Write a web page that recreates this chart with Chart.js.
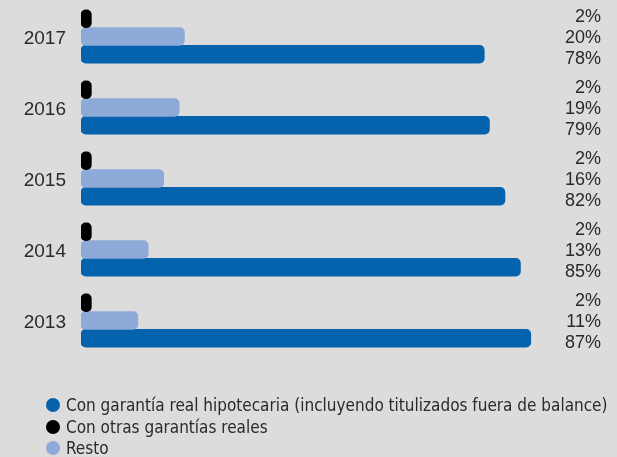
<!DOCTYPE html>
<html>
<head>
<meta charset="utf-8">
<script src="https://cdn.jsdelivr.net/npm/chart.js@4"></script>
<style>
  html, body { margin: 0; padding: 0; background: #dcdcdc; }
  #wrap { position: relative; width: 617px; height: 457px; }
  #legend {
    position: absolute; left: 46px; top: 395px;
    font-family: "Liberation Sans Narrow", "DejaVu Sans Condensed", sans-serif;
    font-size: 17px; color: #2a2a2a;
  }
  #legend .item { height: 21.5px; line-height: 21.5px; white-space: nowrap; }
  #legend .dot {
    display: inline-block; width: 14px; height: 14px; border-radius: 50%;
    vertical-align: -1px; margin-right: 6px;
  }
</style>
</head>
<body>
<div id="wrap">
  <canvas id="chart" width="617" height="457"></canvas>
  <div id="legend"></div>
</div>
<script>
// data
const years = ["2017", "2016", "2015", "2014", "2013"];
const otrasGarantias = [2, 2, 2, 2, 2];
const resto = [20, 19, 16, 13, 11];
const hipotecaria = [78, 79, 82, 85, 87];

const seriesNames = [
  "Con otras garantías reales",
  "Resto",
  "Con garantía real hipotecaria (incluyendo titulizados fuera de balance)"
];
const seriesColors = ["#000000", "#8eaad9", "#0563ad"];
// legend shows mortgage first, then other guarantees, then the rest
const legendOrder = [2, 0, 1];

const textColor = "#2a2a2a";

// percentage labels at the right edge, one per bar
const valueLabels = {
  id: "valueLabels",
  afterDatasetsDraw(chart) {
    const ctx = chart.ctx;
    ctx.save();
    ctx.font = "18px 'Liberation Sans', sans-serif";
    ctx.fillStyle = textColor;
    ctx.textAlign = "right";
    ctx.textBaseline = "middle";
    const yScale = chart.scales.y;
    chart.data.datasets.forEach((ds, i) => {
      const meta = chart.getDatasetMeta(i);
      meta.data.forEach((bar, j) => {
        const mid = yScale.getPixelForValue(j);
        const y = mid + (bar.y - mid) * 1.2;
        ctx.fillText(ds.data[j] + "%", 601, y + 1.5);
      });
    });
    ctx.restore();
  }
};

const datasets = [otrasGarantias, resto, hipotecaria].map((d, i) => ({
  label: seriesNames[i],
  data: d,
  backgroundColor: seriesColors[i],
  borderRadius: 5,
  borderSkipped: false,
  barThickness: 17.7
}));

const chart = new Chart(document.getElementById("chart"), {
  type: "bar",
  data: { labels: years, datasets: datasets },
  plugins: [valueLabels],
  options: {
    indexAxis: "y",
    responsive: false,
    animation: false,
    layout: { padding: { left: 23, right: 19, top: 1, bottom: 101 } },
    plugins: {
      legend: { display: false },
      tooltip: { enabled: false }
    },
    scales: {
      x: { display: false, min: 0, max: 100 },
      y: {
        grid: { display: false, drawTicks: false },
        border: { display: false },
        ticks: {
          color: textColor,
          padding: 15,
          labelOffset: 2,
          font: { family: "'Liberation Sans', sans-serif", size: 19 }
        },
        afterFit: (axis) => {
          axis.width = 58;
          // no extra room above/below the first and last year
          axis.paddingTop = 0;
          axis.paddingBottom = 0;
        }
      }
    }
  }
});

// build the legend from the chart datasets
const legendEl = document.getElementById("legend");
legendOrder.forEach((i) => {
  const ds = chart.data.datasets[i];
  const row = document.createElement("div");
  row.className = "item";
  row.innerHTML = '<span class="dot" style="background:' + ds.backgroundColor + '"></span>' + ds.label;
  legendEl.appendChild(row);
});
</script>
</body>
</html>
